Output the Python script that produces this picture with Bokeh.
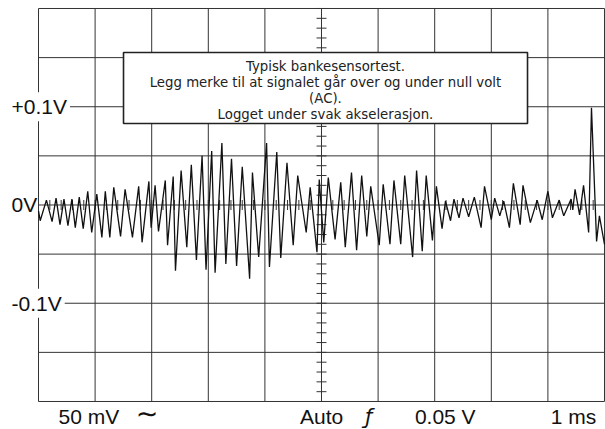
import numpy as np
from bokeh.plotting import figure
from bokeh.models import Range1d, Label, ColumnDataSource
from bokeh.core.properties import value
from bokeh.embed import file_html
from bokeh.resources import INLINE

# ---- data (time in ms, signal in mV) ----
t_ms = [0.00, 0.03, 0.14, 0.24, 0.31, 0.38, 0.45, 0.52, 0.59, 0.65,
        0.72, 0.79, 0.87, 0.94, 1.03, 1.12, 1.18, 1.26, 1.33, 1.45,
        1.53, 1.66, 1.77, 1.83, 1.95, 1.99, 2.06, 2.12, 2.24, 2.28,
        2.38, 2.42, 2.52, 2.62, 2.70, 2.79, 2.89, 2.96, 3.06, 3.12,
        3.24, 3.31, 3.41, 3.50, 3.60, 3.73, 3.78, 3.89, 4.03, 4.08,
        4.21, 4.28, 4.39, 4.50, 4.58, 4.73, 4.80, 4.92, 4.96, 5.04,
        5.12, 5.24, 5.34, 5.42, 5.53, 5.62, 5.71, 5.80, 5.87, 6.02,
        6.09, 6.21, 6.28, 6.40, 6.47, 6.61, 6.68, 6.78, 6.85, 6.96,
        7.03, 7.13, 7.19, 7.28, 7.34, 7.43, 7.50, 7.60, 7.70, 7.82,
        7.88, 8.00, 8.06, 8.15, 8.22, 8.32, 8.39, 8.51, 8.56, 8.69,
        8.81, 8.90, 9.00, 9.08, 9.20, 9.28, 9.41, 9.44, 9.48, 9.56,
        9.63, 9.72, 9.77, 9.86, 9.91, 10.00]
signal_mv = [-6, -16, 5, -17, 7, -20, 6, -21, 6, -23,
             8, -24, 14, -28, 11, -33, 14, -33, 18, -32,
             16, -33, 19, -38, 24, -23, 20, -27, 25, -41,
             29, -67, 35, -43, 41, -56, 50, -66, 55, -69,
             63, -60, 47, -62, 39, -75, 33, -53, 63, -63,
             54, -54, 43, -41, 30, -28, 18, -48, 26, -38,
             28, -35, 23, -43, 33, -46, 30, -32, 19, -41,
             21, -40, 25, -40, 30, -53, 35, -47, 30, -36,
             19, -24, 4, -16, 6, -13, 7, -12, 8, -23,
             19, -15, 7, -11, 4, -23, 22, -20, 20, -18,
             5, -15, 14, -13, 5, -11, 6, -5, 16, -10,
             20, -28, 99, -37, -11, -40]

x_divisions = [0, 1, 2, 3, 4, 5, 6, 7, 8, 9, 10]           # ms
y_divisions = [-200, -150, -100, -50, 0, 50, 100, 150, 200]  # mV
y_tick_labels = ["+0.1V", "0V", "-0.1V"]
y_tick_values = [100, 0, -100]
bottom_texts = ["50 mV", "\u223c", "Auto", "\u0192", "0.05 V", "1 ms"]
note_lines = ["Typisk bankesensortest.",
              "Legg merke til at signalet går over og under null volt",
              "(AC).",
              "Logget under svak akselerasjon."]

# ---- layout (positions in data units of the extended frame) ----
bottom_x = [0.353, 1.72, 4.62, 5.77, 6.65, 9.05]
bottom_y = [-215.3, -212.5, -215.3, -215.3, -215.3, -215.3]
bottom_size = ["21px", "27px", "21px", "21px", "21px", "21px"]
label_x = -0.53
note_x = 5.07
note_y = [141.3, 124.7, 108.2, 91.7]
box = dict(left=1.502, right=8.64, top=155.2, bottom=83.0)

p = figure(width=605, height=429, output_backend="svg", toolbar_location=None,
           x_axis_type=None, y_axis_type=None,
           x_range=Range1d(-0.6714, 10.0177), y_range=Range1d(-228.5, 208.14),
           min_border_left=0, min_border_right=0, min_border_top=0,
           min_border_bottom=0)
p.outline_line_color = None
p.background_fill_color = "white"
p.border_fill_color = "white"

grid_color = "#333333"
x0, x1 = x_divisions[0], x_divisions[-1]
y0, y1 = y_divisions[0], y_divisions[-1]
p.segment(x0=x_divisions, x1=x_divisions, y0=[y0] * len(x_divisions),
          y1=[y1] * len(x_divisions), line_color=grid_color, line_width=1)
p.segment(x0=[x0] * len(y_divisions), x1=[x1] * len(y_divisions),
          y0=y_divisions, y1=y_divisions, line_color=grid_color, line_width=1)

# minor ticks on the centre cross
cx = x_divisions[len(x_divisions) // 2]
cy = y_divisions[len(y_divisions) // 2]
ty = np.arange(y0, y1 + 0.1, 10.0)
tx = np.arange(x0, x1 + 0.01, 0.2)
p.segment(x0=[cx - 0.088] * len(ty), x1=[cx + 0.088] * len(ty), y0=ty, y1=ty,
          line_color=grid_color, line_width=1)
p.segment(x0=tx, x1=tx, y0=[cy - 5.1] * len(tx), y1=[cy + 5.1] * len(tx),
          line_color=grid_color, line_width=1)

# signal
src = ColumnDataSource(dict(t=t_ms, v=signal_mv))
p.line("t", "v", source=src, line_color="#111111", line_width=1.3)

# note box
p.quad(left=[box["left"]], right=[box["right"]], top=[box["top"]],
       bottom=[box["bottom"]], fill_color="white", line_color="#222222",
       line_width=1.6)
nsrc = ColumnDataSource(dict(x=[note_x] * len(note_lines), y=note_y, text=note_lines))
p.text("x", "y", text="text", source=nsrc, text_font=value("DejaVu Sans"),
       text_font_size="13.3px", text_align="center", text_baseline="alphabetic",
       text_color="#222222")

# left labels
for lab, yv in zip(y_tick_labels, y_tick_values):
    bg = "white" if lab != "0V" else None
    p.add_layout(Label(x=label_x, y=yv, text=lab, text_font="Liberation Sans",
                       text_font_size="21px", text_align="left",
                       text_baseline="middle", text_color="#111111",
                       background_fill_color=bg, padding=3))

# bottom labels
for lab, xv, yv, fs in zip(bottom_texts, bottom_x, bottom_y, bottom_size):
    font = "DejaVu Sans" if lab in ("\u223c", "\u0192") else "Liberation Sans"
    p.add_layout(Label(x=xv, y=yv, text=lab, text_font=font,
                       text_font_size=fs, text_align="left",
                       text_baseline="middle", text_color="#111111",
                       text_font_style="italic" if lab == "\u0192" else "normal"))

open("out.html", "w").write(file_html(p, INLINE))
